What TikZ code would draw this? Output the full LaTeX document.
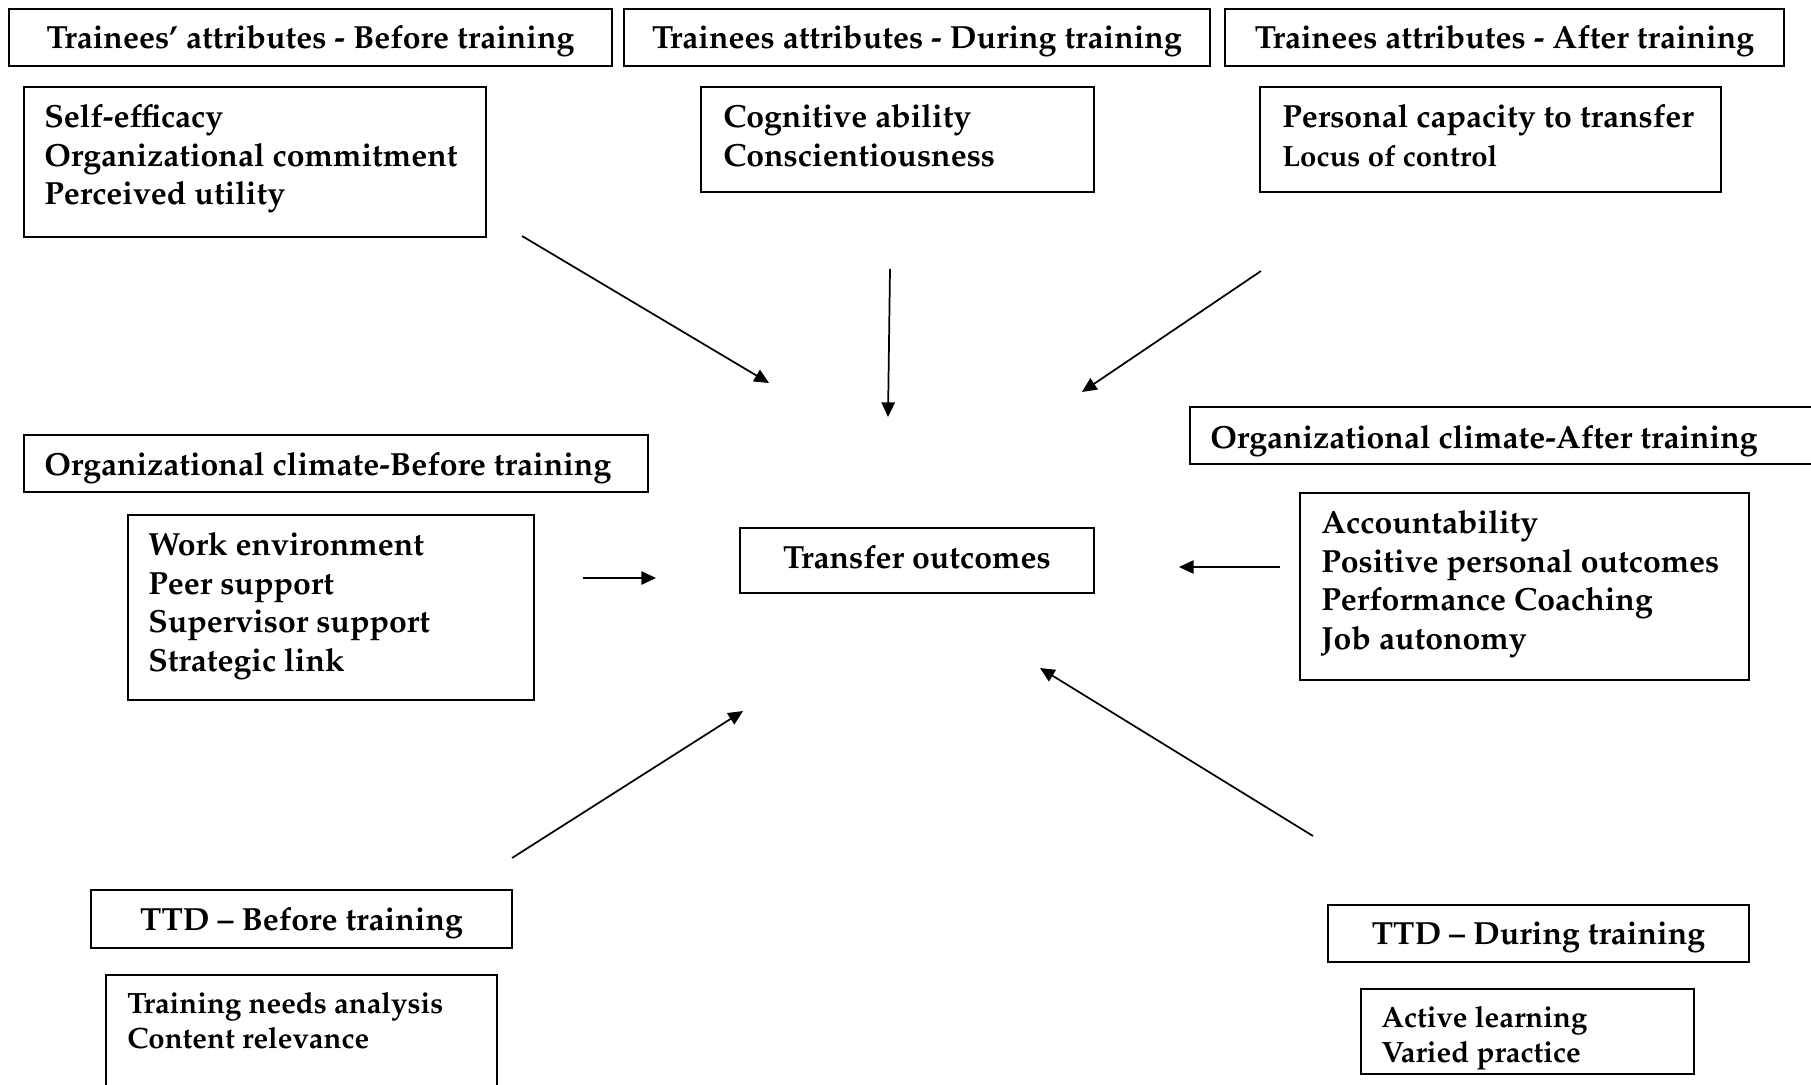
\documentclass[tikz,border=0pt]{standalone}
\usepackage[T1]{fontenc}
\usepackage{mathpazo}
\usetikzlibrary{arrows.meta,fit}
\begin{document}
\begin{tikzpicture}[x=0.75pt,y=-0.75pt,
  box/.style={draw, line width=1.3pt, inner sep=0pt},
  hd/.style={font=\bfseries\fontsize{24}{29}\selectfont, inner sep=0pt, text height=22pt, text depth=5pt},
  txt/.style={font=\bfseries\fontsize{24}{29}\selectfont, inner sep=0pt, anchor=north west, align=left},
  stxt/.style={font=\bfseries\fontsize{22}{26}\selectfont, inner sep=0pt, anchor=north west, align=left},
  arr/.style={line width=1.3pt, -{Triangle[length=11pt,width=10pt]}}]
\useasboundingbox (0,0) rectangle (1811,1085);

% top headers
\node[box, fit={(9,9)(612,66)}] (h1) {};
\node[hd] (h1t) at (h1.center) {Trainees' attributes - Before training};
\node[box, fit={(624,9)(1210,66)}] (h2) {};
\node[hd] (h2t) at (h2.center) {Trainees attributes - During training};
\node[box, fit={(1225,9)(1784,66)}] (h3) {};
\node[hd] (h3t) at (h3.center) {Trainees attributes - After training};

% top content boxes
\node[box, fit={(24,87)(486,237)}] (b1) {};
\node[txt] (b1t) at (44,104) {Self-efficacy\\Organizational commitment\\Perceived utility};
\node[box, fit={(701,87)(1094,192)}] (b2) {};
\node[txt] (b2t) at (723,104) {Cognitive ability\\Conscientiousness};
\node[box, fit={(1260,87)(1721,192)}] (b3) {};
\node[txt] (b3t) at (1282,104) {Personal capacity to transfer\\{\fontsize{22}{26}\selectfont Locus of control}};

% middle left
\node[box, fit={(24,435)(648,492)}] (oc1) {};
\node[hd, anchor=west] (oc1t) at (44,464) {Organizational climate-Before training};
\node[box, fit={(128,515)(534,700)}] (b4) {};
\node[txt] (b4t) at (148,532) {Work environment\\Peer support\\Supervisor support\\Strategic link};

% center
\node[box, fit={(740,528)(1094,593)}] (to) {};
\node[hd, text height=17pt] (tot) at (to.center) {Transfer outcomes};

% middle right
\node[box, fit={(1190,407)(1830,464)}] (oc2) {};
\node[hd, anchor=west] (oc2t) at (1210,437) {Organizational climate-After training};
\node[box, fit={(1300,493)(1749,680)}] (b5) {};
\node[txt] (b5t) at (1321,510) {Accountability\\Positive personal outcomes\\Performance Coaching\\Job autonomy};

% bottom left
\node[box, fit={(91,890)(512,948)}] (t1) {};
\node[hd] (t1t) at (t1.center) {TTD -- Before training};
\node[box, fit={(106,975)(497,1100)}] (b6) {};
\node[stxt] (b6t) at (127,992) {Training needs analysis\\Content relevance};

% bottom right
\node[box, fit={(1328,905)(1749,962)}] (t2) {};
\node[hd] (t2t) at (t2.center) {TTD -- During training};
\node[box, fit={(1361,989)(1694,1074)}] (b7) {};
\node[stxt] (b7t) at (1381,1006) {Active learning\\Varied practice};

% arrow end points
\coordinate (s1) at (522,236); \coordinate (e1) at (769,383);
\coordinate (s2) at (890,269); \coordinate (e2) at (888,417);
\coordinate (s3) at (1261,271); \coordinate (e3) at (1082,392);
\coordinate (s4) at (583,578); \coordinate (e4) at (656,578);
\coordinate (s5) at (1280,567); \coordinate (e5) at (1179,567);
\coordinate (s6) at (512,858); \coordinate (e6) at (743,711);
\coordinate (s7) at (1313,836); \coordinate (e7) at (1040,668);

\draw[arr] (s1) -- (e1);
\draw[arr] (s2) -- (e2);
\draw[arr] (s3) -- (e3);
\draw[arr] (s4) -- (e4);
\draw[arr] (s5) -- (e5);
\draw[arr] (s6) -- (e6);
\draw[arr] (s7) -- (e7);
\end{tikzpicture}
\end{document}
